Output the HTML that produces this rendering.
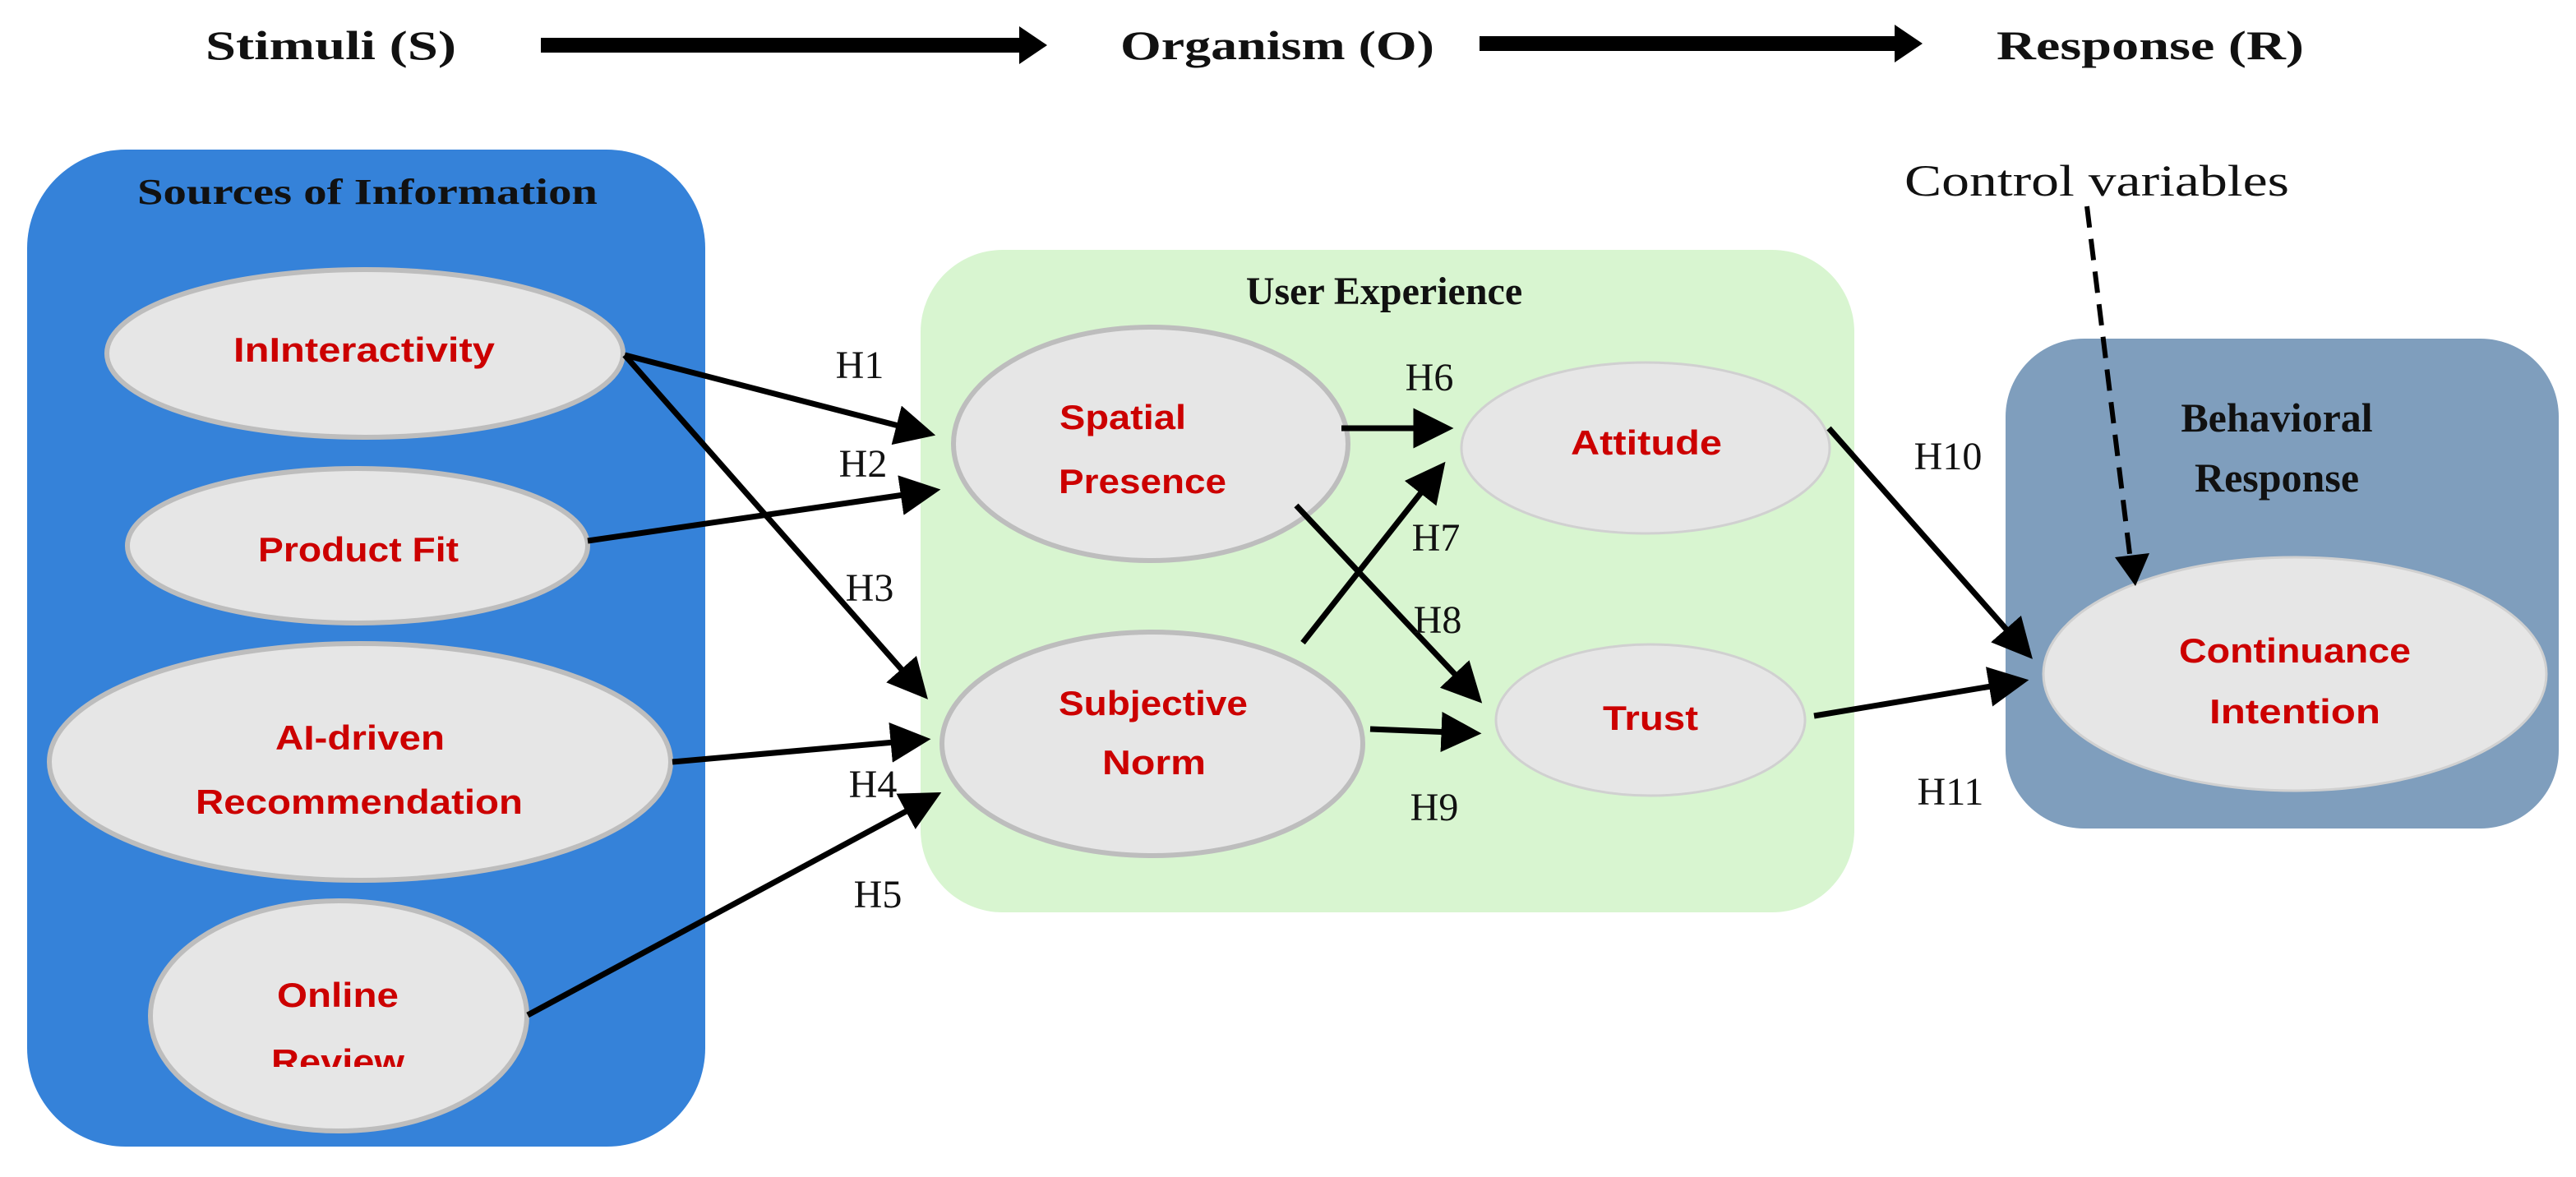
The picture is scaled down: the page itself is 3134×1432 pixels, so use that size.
<!DOCTYPE html>
<html><head><meta charset="utf-8"><style>html,body{margin:0;padding:0;background:#fff}svg{display:block}</style></head>
<body>
<svg width="3134" height="1432" viewBox="0 0 3134 1432" xmlns="http://www.w3.org/2000/svg">
<defs>
<marker id="ah" markerWidth="7" markerHeight="7" refX="5.5" refY="3.5" orient="auto" markerUnits="strokeWidth">
<path d="M0,0 L7,3.5 L0,7 Z" fill="#000"/>
</marker>
</defs>
<g font-family="Liberation Serif, serif" font-weight="bold" font-size="50" fill="#111">
<text x="250" y="72" textLength="305" lengthAdjust="spacingAndGlyphs">Stimuli (S)</text>
<text x="1363" y="72" textLength="382" lengthAdjust="spacingAndGlyphs">Organism (O)</text>
<text x="2429" y="72" textLength="374" lengthAdjust="spacingAndGlyphs">Response (R)</text>
</g>
<path d="M658,46 L1240,46 L1240,32 L1274,55 L1240,78 L1240,64 L658,64 Z" fill="#000"/>
<path d="M1800,44 L2305,44 L2305,30 L2339,53 L2305,76 L2305,62 L1800,62 Z" fill="#000"/>

<rect x="33" y="182" width="825" height="1213" rx="120" fill="#3582d9"/>
<rect x="1120" y="304" width="1136" height="806" rx="100" fill="#d8f5d0"/>
<rect x="2440" y="412" width="673" height="596" rx="95" fill="#7f9ebd"/>

<g font-family="Liberation Serif, serif" font-weight="bold" fill="#111" text-anchor="middle">
<text x="447" y="248" font-size="44" textLength="560" lengthAdjust="spacingAndGlyphs">Sources of Information</text>
<text x="1684" y="370" font-size="48">User Experience</text>
<text x="2770" y="525" font-size="50">Behavioral</text>
<text x="2770" y="598" font-size="50">Response</text>
</g>

<g fill="#e6e6e6" stroke="#bdbdbd" stroke-width="6">
<ellipse cx="444" cy="430" rx="314" ry="102"/>
<ellipse cx="435" cy="664" rx="280" ry="94"/>
<ellipse cx="438" cy="927" rx="378" ry="144"/>
<ellipse cx="412" cy="1236" rx="229" ry="140"/>
<ellipse cx="1400" cy="540" rx="240" ry="142"/>
<ellipse cx="1402" cy="905" rx="256" ry="136"/>
<ellipse cx="2002" cy="545" rx="224" ry="104" stroke-width="3" stroke="#d0d0d0"/>
<ellipse cx="2008" cy="876" rx="188" ry="92" stroke-width="3" stroke="#d0d0d0"/>
<ellipse cx="2792" cy="820" rx="306" ry="142" stroke-width="3" stroke="#d0d0d0"/>
</g>

<g font-family="Liberation Sans, sans-serif" font-weight="bold" fill="#cc0000" font-size="42" text-anchor="middle">
<text x="443" y="440" textLength="318" lengthAdjust="spacingAndGlyphs">InInteractivity</text>
<text x="436" y="683" textLength="244" lengthAdjust="spacingAndGlyphs">Product Fit</text>
<text x="438" y="912" textLength="206" lengthAdjust="spacingAndGlyphs">AI-driven</text>
<text x="437" y="990" textLength="398" lengthAdjust="spacingAndGlyphs">Recommendation</text>
<text x="411" y="1225" textLength="148" lengthAdjust="spacingAndGlyphs">Online</text>
<text x="1366" y="522" textLength="154" lengthAdjust="spacingAndGlyphs">Spatial</text>
<text x="1390" y="600" textLength="204" lengthAdjust="spacingAndGlyphs">Presence</text>
<text x="1403" y="870" textLength="230" lengthAdjust="spacingAndGlyphs">Subjective</text>
<text x="1404" y="942" textLength="126" lengthAdjust="spacingAndGlyphs">Norm</text>
<text x="2003" y="553" textLength="184" lengthAdjust="spacingAndGlyphs">Attitude</text>
<text x="2008" y="888" textLength="116" lengthAdjust="spacingAndGlyphs">Trust</text>
<text x="2792" y="806" textLength="282" lengthAdjust="spacingAndGlyphs">Continuance</text>
<text x="2792" y="880" textLength="208" lengthAdjust="spacingAndGlyphs">Intention</text>
</g>
<svg x="300" y="1250" width="300" height="48" overflow="hidden">
<text x="111" y="56" font-family="Liberation Sans, sans-serif" font-weight="bold" fill="#cc0000" font-size="42" text-anchor="middle" textLength="162" lengthAdjust="spacingAndGlyphs">Review</text>
</svg>

<g stroke="#000" stroke-width="7" fill="none" marker-end="url(#ah)">
<line x1="760" y1="432" x2="1128" y2="527"/>
<line x1="760" y1="432" x2="1122" y2="843"/>
<line x1="715" y1="658" x2="1134" y2="597"/>
<line x1="818" y1="927" x2="1122" y2="900"/>
<line x1="642" y1="1235" x2="1136" y2="969"/>
<line x1="1632" y1="521" x2="1758" y2="521"/>
<line x1="1585" y1="782" x2="1752" y2="570"/>
<line x1="1577" y1="615" x2="1796" y2="848"/>
<line x1="1667" y1="887" x2="1792" y2="892"/>
<line x1="2225" y1="521" x2="2466" y2="794"/>
<line x1="2207" y1="871" x2="2458" y2="829"/>
</g>
<line x1="2539" y1="251" x2="2593" y2="690" stroke="#000" stroke-width="6" stroke-dasharray="26,14"/>
<path d="M2573,678 L2615,673 L2598,713 Z" fill="#000"/>

<g font-family="Liberation Serif, serif" font-size="48" fill="#111" text-anchor="middle">
<text x="1046" y="460">H1</text>
<text x="1050" y="580">H2</text>
<text x="1058" y="731">H3</text>
<text x="1062" y="970">H4</text>
<text x="1068" y="1104">H5</text>
<text x="1739" y="475">H6</text>
<text x="1747" y="670">H7</text>
<text x="1749" y="770">H8</text>
<text x="1745" y="998">H9</text>
<text x="2370" y="571">H10</text>
<text x="2373" y="979">H11</text>
<text x="2551" y="238" font-size="54" textLength="468" lengthAdjust="spacingAndGlyphs">Control variables</text>
</g>
</svg>
</body></html>
